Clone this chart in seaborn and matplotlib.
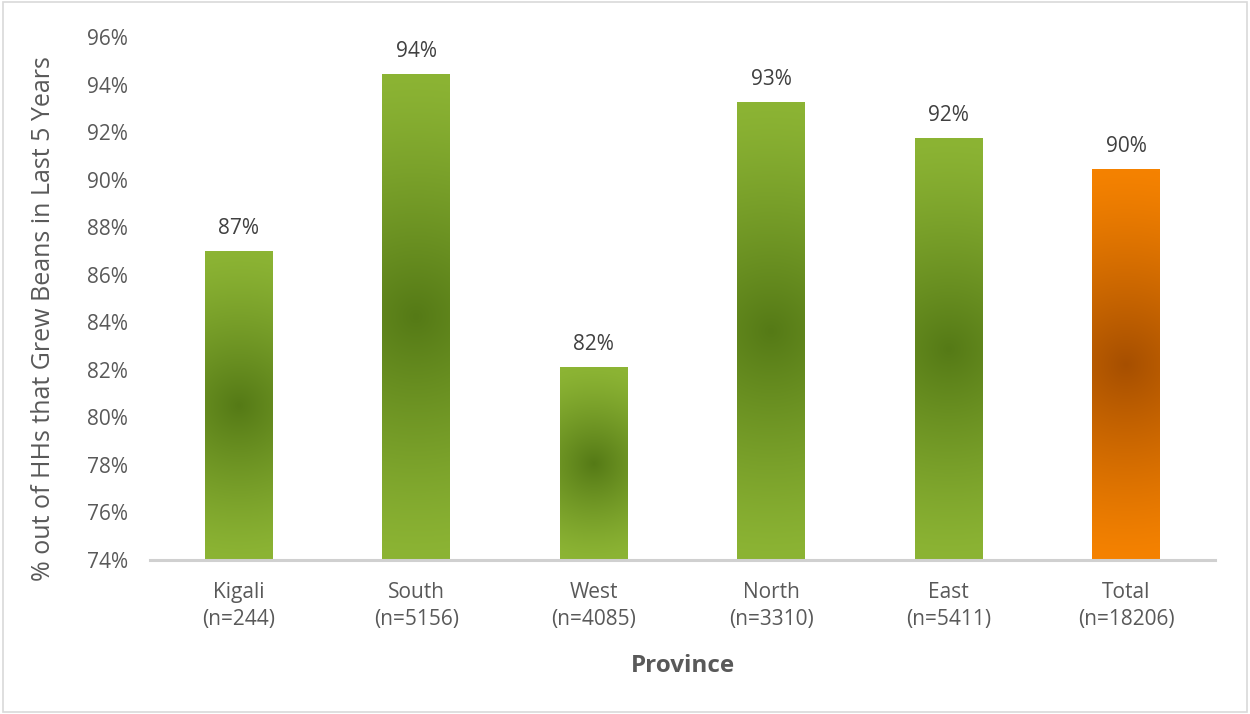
import numpy as np
import matplotlib
matplotlib.use("Agg")
import matplotlib.pyplot as plt
import matplotlib.patches as mpatches
from matplotlib.colors import to_rgb
import seaborn as sns
import pandas as pd

# Share of households that grew beans in the last five years, by province
provinces = ["Kigali", "South", "West", "North", "East", "Total"]
sample_sizes = [244, 5156, 4085, 3310, 5411, 18206]
pct_grew_beans = [87.0, 94.45, 82.1, 93.27, 91.75, 90.45]
y_ticks = [74, 76, 78, 80, 82, 84, 86, 88, 90, 92, 94, 96]

# Edge (light) and centre (dark) colours of the bar fills
light_cols = ["#8CB434"] * 5 + ["#F58200"]
dark_cols = ["#557A16"] * 5 + ["#A64F00"]

sns.set_theme(style="white")
plt.rcParams["font.family"] = ["Open Sans", "DejaVu Sans"]
text_col = "#595959"

labels = [f"{p}\n(n={n})" for p, n in zip(provinces, sample_sizes)]
df = pd.DataFrame({"Province": labels, "pct": pct_grew_beans})

fig = plt.figure(figsize=(12.5, 7.14), dpi=100)
ax = fig.add_axes([0.12, 0.2157, 0.852, 0.7323])

sns.barplot(data=df, x="Province", y="pct", hue="Province", palette=light_cols,
            legend=False, width=0.383, ax=ax, saturation=1, linewidth=0)

ax.set_ylim(y_ticks[0], y_ticks[-1])
ax.set_xlim(-0.5, len(provinces) - 0.5)
ax.set_yticks(y_ticks)
ax.set_yticklabels([f"{t}%" for t in y_ticks])

fig.canvas.draw()

# Radial shading inside each bar: darkest at the middle of the visible part
for patch, v, lc, dc in zip(ax.patches, pct_grew_beans, light_cols, dark_cols):
    x0 = patch.get_x()
    x1 = x0 + patch.get_width()
    y0 = y_ticks[0]
    y1 = v
    p0 = ax.transData.transform((x0, y0))
    p1 = ax.transData.transform((x1, y1))
    wpx = max(int(round(abs(p1[0] - p0[0]))), 2)
    hpx = max(int(round(abs(p1[1] - p0[1]))), 2)
    xs = np.arange(wpx) + 0.5 - wpx / 2
    ys = np.arange(hpx) + 0.5 - hpx / 2
    X, Y = np.meshgrid(xs, ys)
    t = np.clip(np.sqrt(X ** 2 + Y ** 2) / (hpx / 2), 0, 1)
    w = (1 - t) ** 1.25
    lrgb = np.array(to_rgb(lc))
    drgb = np.array(to_rgb(dc))
    img = lrgb[None, None, :] + (drgb - lrgb)[None, None, :] * w[:, :, None]
    im = ax.imshow(img, extent=(x0, x1, y0, y1), origin="lower",
                   aspect="auto", interpolation="bilinear", zorder=3)
    im.set_clip_path(patch)
    ax.annotate(f"{v:.0f}%", xy=(patch.get_x() + patch.get_width() / 2, v),
                xytext=(0, 12), textcoords="offset pixels",
                ha="center", va="bottom", fontsize=15, color="#404040")

ax.set_xlim(-0.5, len(provinces) - 0.5)
ax.set_ylim(y_ticks[0], y_ticks[-1])

for side in ["left", "right", "top"]:
    ax.spines[side].set_visible(False)
ax.spines["bottom"].set_color("#D0D0D0")
ax.spines["bottom"].set_linewidth(2.2)
ax.spines["bottom"].set_zorder(5)
ax.grid(False)

ax.tick_params(axis="y", length=0, pad=16, labelsize=15, labelcolor=text_col)
ax.tick_params(axis="x", length=0, pad=16, labelsize=15, labelcolor=text_col)
for lab in ax.get_xticklabels():
    lab.set_linespacing(1.38)

ax.set_xlabel("Province", fontsize=17.5, fontweight="bold", color=text_col,
              labelpad=17)
ax.set_ylabel("% out of HHs that Grew Beans in Last 5 Years", fontsize=18,
              color=text_col)
ax.yaxis.set_label_coords(-0.088, 0.461)

# Thin frame around the whole chart
fig.add_artist(mpatches.Rectangle((0.0025, 0.0035), 0.995, 0.993,
                                  transform=fig.transFigure, fill=False,
                                  edgecolor="#D9D9D9", linewidth=1.2))

fig.savefig("out.png", dpi=100)
